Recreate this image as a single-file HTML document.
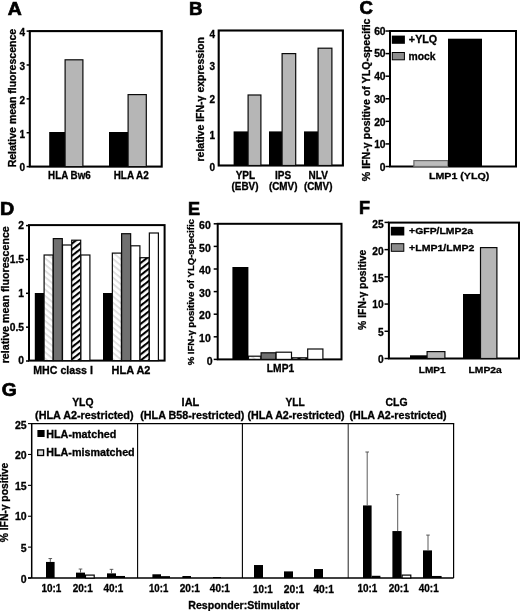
<!DOCTYPE html>
<html><head><meta charset="utf-8"><title>Figure</title>
<style>
html,body{margin:0;padding:0;background:#fff;}
svg{display:block;font-family:"Liberation Sans", Arial, Helvetica, sans-serif;font-weight:bold;}
text{fill:#000;stroke:#000;stroke-width:0.3px;}
text.L{stroke-width:0.7px;}
</style></head>
<body>
<svg width="520" height="611" viewBox="0 0 520 611">
<defs>
<pattern id="lh" width="4.8" height="4.8" patternUnits="userSpaceOnUse" patternTransform="rotate(40)">
<rect width="4.8" height="4.8" fill="#fff"/><rect width="4.8" height="1.7" fill="#dcdcdc"/>
</pattern>
<pattern id="bh" width="4.8" height="4.8" patternUnits="userSpaceOnUse" patternTransform="rotate(-38)">
<rect width="4.8" height="4.8" fill="#fff"/><rect width="4.8" height="2.1" fill="#000"/>
</pattern>
</defs>
<rect width="520" height="611" fill="#fff"/>
<text x="7.72" y="15.00" font-size="18.3" textLength="14.01" lengthAdjust="spacingAndGlyphs" class="L">A</text>
<rect x="29.8" y="31.1" width="131.89999999999998" height="135.5" fill="none" stroke="#000" stroke-width="2.1"/>
<line x1="26.6" y1="166.60" x2="29.8" y2="166.60" stroke="#000" stroke-width="1.5"/>
<line x1="26.6" y1="132.73" x2="29.8" y2="132.73" stroke="#000" stroke-width="1.5"/>
<line x1="26.6" y1="98.86" x2="29.8" y2="98.86" stroke="#000" stroke-width="1.5"/>
<line x1="26.6" y1="64.99" x2="29.8" y2="64.99" stroke="#000" stroke-width="1.5"/>
<line x1="26.6" y1="31.12" x2="29.8" y2="31.12" stroke="#000" stroke-width="1.5"/>
<text x="25.00" y="171.38" font-size="10" text-anchor="end">0</text>
<text x="25.00" y="137.51" font-size="10" text-anchor="end">1</text>
<text x="25.00" y="103.64" font-size="10" text-anchor="end">2</text>
<text x="25.00" y="69.77" font-size="10" text-anchor="end">3</text>
<text x="25.00" y="35.90" font-size="10" text-anchor="end">4</text>
<rect x="49.20" y="132.00" width="15.80" height="34.60" fill="#000"/>
<rect x="65.10" y="59.80" width="17.80" height="106.80" fill="#b6b6b6" stroke="#0a0a0a" stroke-width="1.2"/>
<rect x="109.00" y="132.00" width="19.00" height="34.60" fill="#000"/>
<rect x="128.10" y="94.60" width="18.20" height="72.00" fill="#b6b6b6" stroke="#0a0a0a" stroke-width="1.2"/>
<text x="48.11" y="178.90" font-size="10.3" textLength="42.60" lengthAdjust="spacingAndGlyphs">HLA Bw6</text>
<text x="113.71" y="178.90" font-size="10.3" textLength="35.06" lengthAdjust="spacingAndGlyphs">HLA A2</text>
<text x="16.20" y="167.34" font-size="10.6" textLength="138.48" lengthAdjust="spacingAndGlyphs" transform="rotate(-90 16.20 167.34)">Relative mean fluorescence</text>
<text x="188.99" y="15.00" font-size="18.3" textLength="13.50" lengthAdjust="spacingAndGlyphs" class="L">B</text>
<rect x="218.7" y="30.5" width="124.19999999999999" height="135.0" fill="none" stroke="#000" stroke-width="2.1"/>
<text x="215.10" y="171.08" font-size="10" text-anchor="end">0</text>
<text x="215.10" y="138.58" font-size="10" text-anchor="end">1</text>
<text x="215.10" y="103.08" font-size="10" text-anchor="end">2</text>
<text x="215.10" y="70.08" font-size="10" text-anchor="end">3</text>
<text x="215.10" y="37.78" font-size="10" text-anchor="end">4</text>
<rect x="233.60" y="131.40" width="14.40" height="34.10" fill="#000"/>
<rect x="248.10" y="95.00" width="12.80" height="70.50" fill="#b6b6b6" stroke="#0a0a0a" stroke-width="1.2"/>
<rect x="269.00" y="131.40" width="13.00" height="34.10" fill="#000"/>
<rect x="282.10" y="53.60" width="13.60" height="111.90" fill="#b6b6b6" stroke="#0a0a0a" stroke-width="1.2"/>
<rect x="304.00" y="131.40" width="14.00" height="34.10" fill="#000"/>
<rect x="318.10" y="48.20" width="13.80" height="117.30" fill="#b6b6b6" stroke="#0a0a0a" stroke-width="1.2"/>
<text x="245.4" y="179.2" font-size="10" text-anchor="middle">YPL</text>
<text x="231.50" y="190.20" font-size="10" textLength="27.01" lengthAdjust="spacingAndGlyphs">(EBV)</text>
<text x="283" y="179.2" font-size="10" text-anchor="middle">IPS</text>
<text x="268.91" y="190.20" font-size="10" textLength="28.57" lengthAdjust="spacingAndGlyphs">(CMV)</text>
<text x="318.2" y="179.2" font-size="10" text-anchor="middle">NLV</text>
<text x="303.91" y="190.20" font-size="10" textLength="28.57" lengthAdjust="spacingAndGlyphs">(CMV)</text>
<text x="204.20" y="161.54" font-size="10.6" textLength="124.45" lengthAdjust="spacingAndGlyphs" transform="rotate(-90 204.20 161.54)">relative IFN-γ expression</text>
<text x="359.56" y="14.00" font-size="18.3" textLength="13.44" lengthAdjust="spacingAndGlyphs" class="L">C</text>
<rect x="390" y="31" width="126" height="135.5" fill="none" stroke="#000" stroke-width="2"/>
<line x1="385.5" y1="166.50" x2="390" y2="166.50" stroke="#000" stroke-width="1.5"/>
<line x1="385.5" y1="143.92" x2="390" y2="143.92" stroke="#000" stroke-width="1.5"/>
<line x1="385.5" y1="121.34" x2="390" y2="121.34" stroke="#000" stroke-width="1.5"/>
<line x1="385.5" y1="98.76" x2="390" y2="98.76" stroke="#000" stroke-width="1.5"/>
<line x1="385.5" y1="76.18" x2="390" y2="76.18" stroke="#000" stroke-width="1.5"/>
<line x1="385.5" y1="53.60" x2="390" y2="53.60" stroke="#000" stroke-width="1.5"/>
<line x1="385.5" y1="31.02" x2="390" y2="31.02" stroke="#000" stroke-width="1.5"/>
<text x="385.60" y="170.69" font-size="10.3" text-anchor="end">0</text>
<text x="385.60" y="148.29" font-size="10.3" text-anchor="end">10</text>
<text x="385.60" y="125.69" font-size="10.3" text-anchor="end">20</text>
<text x="385.60" y="102.69" font-size="10.3" text-anchor="end">30</text>
<text x="385.60" y="80.19" font-size="10.3" text-anchor="end">40</text>
<text x="385.60" y="57.29" font-size="10.3" text-anchor="end">50</text>
<text x="385.60" y="35.49" font-size="10.3" text-anchor="end">60</text>
<rect x="413.90" y="160.60" width="34.00" height="5.90" fill="#bcbcbc" stroke="#6a6a6a" stroke-width="1.2"/>
<rect x="448.00" y="38.70" width="34.00" height="127.80" fill="#000"/>
<rect x="391.80" y="35.60" width="13.10" height="8.20" fill="#000"/>
<rect x="392.30" y="52.50" width="12.10" height="7.30" fill="#8c8c8c" stroke="#000" stroke-width="1"/>
<text x="408.87" y="43.10" font-size="10.5" textLength="28.36" lengthAdjust="spacingAndGlyphs">+YLQ</text>
<text x="408.58" y="59.70" font-size="10.5" textLength="27.05" lengthAdjust="spacingAndGlyphs">mock</text>
<text x="428.95" y="179.40" font-size="9.9" textLength="60.34" lengthAdjust="spacingAndGlyphs">LMP1 (YLQ)</text>
<text x="369.60" y="181.22" font-size="10.3" textLength="162.72" lengthAdjust="spacingAndGlyphs" transform="rotate(-90 369.60 181.22)">% IFN-γ positive of YLQ-specific</text>
<text x="0.02" y="214.80" font-size="18.3" textLength="14.21" lengthAdjust="spacingAndGlyphs" class="L">D</text>
<rect x="29" y="225.1" width="135.6" height="135.50000000000003" fill="none" stroke="#000" stroke-width="2"/>
<line x1="26" y1="361.00" x2="29" y2="361.00" stroke="#000" stroke-width="1.5"/>
<line x1="26" y1="327.15" x2="29" y2="327.15" stroke="#000" stroke-width="1.5"/>
<line x1="26" y1="293.30" x2="29" y2="293.30" stroke="#000" stroke-width="1.5"/>
<line x1="26" y1="259.45" x2="29" y2="259.45" stroke="#000" stroke-width="1.5"/>
<line x1="26" y1="225.60" x2="29" y2="225.60" stroke="#000" stroke-width="1.5"/>
<text x="24.10" y="364.29" font-size="10.3" text-anchor="end">0</text>
<text x="24.10" y="331.09" font-size="10.3" text-anchor="end">0.5</text>
<text x="24.10" y="296.89" font-size="10.3" text-anchor="end">1</text>
<text x="24.10" y="263.29" font-size="10.3" text-anchor="end">1.5</text>
<text x="24.10" y="228.89" font-size="10.3" text-anchor="end">2</text>
<rect x="34.80" y="293.00" width="9.20" height="67.60" fill="#000"/>
<rect x="44.10" y="255.00" width="9.00" height="105.60" fill="url(#lh)" stroke="#0a0a0a" stroke-width="1.2"/>
<rect x="53.30" y="238.60" width="9.00" height="122.00" fill="#707070" stroke="#0a0a0a" stroke-width="1.2"/>
<rect x="62.50" y="245.00" width="9.00" height="115.60" fill="#fff" stroke="#0a0a0a" stroke-width="1.2"/>
<rect x="71.70" y="240.20" width="9.00" height="120.40" fill="url(#bh)" stroke="#0a0a0a" stroke-width="1.2"/>
<rect x="80.90" y="255.00" width="9.00" height="105.60" fill="#fff" stroke="#0a0a0a" stroke-width="1.2"/>
<rect x="103.00" y="293.00" width="9.25" height="67.60" fill="#000"/>
<rect x="112.35" y="253.10" width="9.05" height="107.50" fill="url(#lh)" stroke="#0a0a0a" stroke-width="1.2"/>
<rect x="121.60" y="233.70" width="9.05" height="126.90" fill="#707070" stroke="#0a0a0a" stroke-width="1.2"/>
<rect x="130.85" y="245.80" width="9.05" height="114.80" fill="#fff" stroke="#0a0a0a" stroke-width="1.2"/>
<rect x="140.10" y="257.70" width="9.05" height="102.90" fill="url(#bh)" stroke="#0a0a0a" stroke-width="1.2"/>
<rect x="149.35" y="233.00" width="9.05" height="127.60" fill="#fff" stroke="#0a0a0a" stroke-width="1.2"/>
<text x="33.26" y="374.20" font-size="10.5" textLength="59.62" lengthAdjust="spacingAndGlyphs">MHC class I</text>
<text x="111.63" y="374.20" font-size="10.5" textLength="38.77" lengthAdjust="spacingAndGlyphs">HLA A2</text>
<text x="8.80" y="363.35" font-size="10.5" textLength="137.17" lengthAdjust="spacingAndGlyphs" transform="rotate(-90 8.80 363.35)">relative mean fluorescence</text>
<text x="188.04" y="214.80" font-size="18.3" textLength="12.03" lengthAdjust="spacingAndGlyphs" class="L">E</text>
<rect x="217.7" y="223.8" width="123.80000000000001" height="135.59999999999997" fill="none" stroke="#000" stroke-width="2"/>
<line x1="213.7" y1="359.40" x2="217.7" y2="359.40" stroke="#000" stroke-width="1.5"/>
<line x1="213.7" y1="336.80" x2="217.7" y2="336.80" stroke="#000" stroke-width="1.5"/>
<line x1="213.7" y1="314.20" x2="217.7" y2="314.20" stroke="#000" stroke-width="1.5"/>
<line x1="213.7" y1="291.60" x2="217.7" y2="291.60" stroke="#000" stroke-width="1.5"/>
<line x1="213.7" y1="269.00" x2="217.7" y2="269.00" stroke="#000" stroke-width="1.5"/>
<line x1="213.7" y1="246.40" x2="217.7" y2="246.40" stroke="#000" stroke-width="1.5"/>
<line x1="213.7" y1="223.80" x2="217.7" y2="223.80" stroke="#000" stroke-width="1.5"/>
<text x="212.60" y="364.56" font-size="10.5" text-anchor="end">0</text>
<text x="210.80" y="341.76" font-size="10.5" text-anchor="end">10</text>
<text x="210.80" y="319.36" font-size="10.5" text-anchor="end">20</text>
<text x="210.80" y="296.76" font-size="10.5" text-anchor="end">30</text>
<text x="210.80" y="274.16" font-size="10.5" text-anchor="end">40</text>
<text x="210.80" y="251.76" font-size="10.5" text-anchor="end">50</text>
<text x="210.80" y="229.36" font-size="10.5" text-anchor="end">60</text>
<rect x="232.40" y="267.00" width="16.00" height="92.40" fill="#000"/>
<rect x="248.50" y="356.20" width="12.40" height="3.20" fill="url(#lh)" stroke="#0a0a0a" stroke-width="1.2"/>
<rect x="261.10" y="352.80" width="14.80" height="6.60" fill="#707070" stroke="#0a0a0a" stroke-width="1.2"/>
<rect x="276.10" y="352.20" width="15.40" height="7.20" fill="#fff" stroke="#0a0a0a" stroke-width="1.2"/>
<rect x="291.70" y="357.80" width="15.80" height="1.60" fill="url(#bh)" stroke="#0a0a0a" stroke-width="1.2"/>
<rect x="307.70" y="349.00" width="15.20" height="10.40" fill="#fff" stroke="#0a0a0a" stroke-width="1.2"/>
<text x="266.88" y="371.80" font-size="10" textLength="27.29" lengthAdjust="spacingAndGlyphs">LMP1</text>
<text x="194.30" y="365.29" font-size="9.3" textLength="146.15" lengthAdjust="spacingAndGlyphs" transform="rotate(-90 194.30 365.29)">% IFN-γ positive of YLQ-specific</text>
<text x="359.04" y="214.00" font-size="18.3" textLength="11.00" lengthAdjust="spacingAndGlyphs" class="L">F</text>
<rect x="388.9" y="222.6" width="130.10000000000002" height="135.9" fill="none" stroke="#000" stroke-width="2"/>
<line x1="384.5" y1="358.50" x2="389" y2="358.50" stroke="#000" stroke-width="1.5"/>
<line x1="384.5" y1="331.28" x2="389" y2="331.28" stroke="#000" stroke-width="1.5"/>
<line x1="384.5" y1="304.06" x2="389" y2="304.06" stroke="#000" stroke-width="1.5"/>
<line x1="384.5" y1="276.84" x2="389" y2="276.84" stroke="#000" stroke-width="1.5"/>
<line x1="384.5" y1="249.62" x2="389" y2="249.62" stroke="#000" stroke-width="1.5"/>
<line x1="384.5" y1="222.40" x2="389" y2="222.40" stroke="#000" stroke-width="1.5"/>
<text x="383.60" y="363.35" font-size="10.2" text-anchor="end">0</text>
<text x="383.60" y="335.65" font-size="10.2" text-anchor="end">5</text>
<text x="383.60" y="308.05" font-size="10.2" text-anchor="end">10</text>
<text x="383.60" y="281.65" font-size="10.2" text-anchor="end">15</text>
<text x="383.60" y="254.65" font-size="10.2" text-anchor="end">20</text>
<text x="383.60" y="227.65" font-size="10.2" text-anchor="end">25</text>
<rect x="410.00" y="355.30" width="17.00" height="3.20" fill="#000"/>
<rect x="427.10" y="351.60" width="17.80" height="6.90" fill="#b6b6b6" stroke="#0a0a0a" stroke-width="1.2"/>
<rect x="463.00" y="294.00" width="17.40" height="64.50" fill="#000"/>
<rect x="480.50" y="247.60" width="16.40" height="110.90" fill="#b6b6b6" stroke="#0a0a0a" stroke-width="1.2"/>
<rect x="390.80" y="226.80" width="13.50" height="8.70" fill="#000"/>
<rect x="391.30" y="243.70" width="12.50" height="7.60" fill="#8c8c8c" stroke="#000" stroke-width="1"/>
<text x="409.08" y="234.00" font-size="9.8" textLength="64.02" lengthAdjust="spacingAndGlyphs">+GFP/LMP2a</text>
<text x="409.08" y="250.70" font-size="9.8" textLength="65.30" lengthAdjust="spacingAndGlyphs">+LMP1/LMP2</text>
<text x="418.80" y="372.80" font-size="9.8" textLength="26.77" lengthAdjust="spacingAndGlyphs">LMP1</text>
<text x="468.58" y="372.80" font-size="9.8" textLength="33.15" lengthAdjust="spacingAndGlyphs">LMP2a</text>
<text x="366.50" y="329.91" font-size="10.4" textLength="80.26" lengthAdjust="spacingAndGlyphs" transform="rotate(-90 366.50 329.91)">% IFN-γ positive</text>
<text x="1.83" y="396.40" font-size="18.3" textLength="14.99" lengthAdjust="spacingAndGlyphs" class="L">G</text>
<line x1="31.7" y1="423.0" x2="31.7" y2="578" stroke="#000" stroke-width="1.5"/>
<line x1="31" y1="423.6" x2="454.2" y2="423.6" stroke="#000" stroke-width="1.2"/>
<line x1="453.6" y1="423.6" x2="453.6" y2="578" stroke="#000" stroke-width="1.2"/>
<line x1="137.6" y1="423.6" x2="137.6" y2="578" stroke="#000" stroke-width="1.1"/>
<line x1="242.4" y1="423.6" x2="242.4" y2="578" stroke="#000" stroke-width="1.1"/>
<line x1="348.2" y1="423.6" x2="348.2" y2="578" stroke="#222" stroke-width="1"/>
<line x1="28" y1="578" x2="453.6" y2="578" stroke="#000" stroke-width="1.6"/>
<line x1="28" y1="578.00" x2="31" y2="578.00" stroke="#000" stroke-width="1.1"/>
<line x1="28" y1="547.12" x2="31" y2="547.12" stroke="#000" stroke-width="1.1"/>
<line x1="28" y1="516.24" x2="31" y2="516.24" stroke="#000" stroke-width="1.1"/>
<line x1="28" y1="485.36" x2="31" y2="485.36" stroke="#000" stroke-width="1.1"/>
<line x1="28" y1="454.48" x2="31" y2="454.48" stroke="#000" stroke-width="1.1"/>
<line x1="28" y1="423.60" x2="31" y2="423.60" stroke="#000" stroke-width="1.1"/>
<text x="26.60" y="582.56" font-size="10.5" text-anchor="end">0</text>
<text x="26.60" y="551.76" font-size="10.5" text-anchor="end">5</text>
<text x="26.60" y="520.36" font-size="10.5" text-anchor="end">10</text>
<text x="26.60" y="489.86" font-size="10.5" text-anchor="end">15</text>
<text x="26.60" y="458.86" font-size="10.5" text-anchor="end">20</text>
<text x="26.60" y="428.76" font-size="10.5" text-anchor="end">25</text>
<rect x="46.00" y="561.94" width="8.60" height="16.06" fill="#000"/>
<line x1="50.3" y1="561.94" x2="50.3" y2="558.55" stroke="#4a4a4a" stroke-width="0.9"/>
<line x1="48.5" y1="558.55" x2="52.099999999999994" y2="558.55" stroke="#4a4a4a" stroke-width="0.9"/>
<rect x="76.00" y="572.63" width="9.00" height="5.37" fill="#000"/>
<line x1="80.5" y1="572.63" x2="80.5" y2="569.04" stroke="#4a4a4a" stroke-width="0.9"/>
<line x1="78.7" y1="569.04" x2="82.3" y2="569.04" stroke="#4a4a4a" stroke-width="0.9"/>
<rect x="85.50" y="575.10" width="8.70" height="2.90" fill="#fff" stroke="#000" stroke-width="1.2"/>
<rect x="107.00" y="573.37" width="9.00" height="4.63" fill="#000"/>
<line x1="111.5" y1="573.37" x2="111.5" y2="569.35" stroke="#4a4a4a" stroke-width="0.9"/>
<line x1="109.7" y1="569.35" x2="113.3" y2="569.35" stroke="#4a4a4a" stroke-width="0.9"/>
<rect x="116.00" y="575.96" width="9.00" height="2.04" fill="#000"/>
<rect x="152.40" y="574.29" width="8.60" height="3.71" fill="#000"/>
<rect x="161.00" y="576.15" width="9.00" height="1.85" fill="#000"/>
<rect x="182.40" y="576.02" width="8.60" height="1.98" fill="#000"/>
<rect x="213.00" y="577.01" width="8.00" height="0.99" fill="#000"/>
<rect x="254.00" y="565.03" width="9.00" height="12.97" fill="#000"/>
<rect x="284.00" y="571.39" width="9.00" height="6.61" fill="#000"/>
<rect x="314.00" y="569.04" width="9.00" height="8.96" fill="#000"/>
<rect x="363.00" y="505.43" width="8.60" height="72.57" fill="#000"/>
<line x1="367.2" y1="505.43" x2="367.2" y2="452.01" stroke="#4a4a4a" stroke-width="0.9"/>
<line x1="365.4" y1="452.01" x2="369.0" y2="452.01" stroke="#4a4a4a" stroke-width="0.9"/>
<rect x="371.60" y="575.78" width="8.80" height="2.22" fill="#000"/>
<rect x="392.40" y="531.06" width="9.20" height="46.94" fill="#000"/>
<line x1="397.7" y1="531.06" x2="397.7" y2="494.62" stroke="#4a4a4a" stroke-width="0.9"/>
<line x1="395.9" y1="494.62" x2="399.5" y2="494.62" stroke="#4a4a4a" stroke-width="0.9"/>
<rect x="402.10" y="575.10" width="8.70" height="2.90" fill="#fff" stroke="#000" stroke-width="1.2"/>
<rect x="423.00" y="550.39" width="9.00" height="27.61" fill="#000"/>
<line x1="428" y1="550.39" x2="428" y2="535.08" stroke="#4a4a4a" stroke-width="0.9"/>
<line x1="426.2" y1="535.08" x2="429.8" y2="535.08" stroke="#4a4a4a" stroke-width="0.9"/>
<rect x="432.00" y="575.96" width="9.60" height="2.04" fill="#000"/>
<text x="41.40" y="592.20" font-size="10.5" textLength="19.91" lengthAdjust="spacingAndGlyphs">10:1</text>
<text x="72.70" y="592.20" font-size="10.5" textLength="20.02" lengthAdjust="spacingAndGlyphs">20:1</text>
<text x="103.40" y="592.20" font-size="10.5" textLength="19.91" lengthAdjust="spacingAndGlyphs">40:1</text>
<text x="149.02" y="592.20" font-size="10.5" textLength="19.28" lengthAdjust="spacingAndGlyphs">10:1</text>
<text x="179.70" y="592.20" font-size="10.5" textLength="20.22" lengthAdjust="spacingAndGlyphs">20:1</text>
<text x="209.80" y="592.20" font-size="10.5" textLength="20.12" lengthAdjust="spacingAndGlyphs">40:1</text>
<text x="253.01" y="593.20" font-size="10.5" textLength="19.70" lengthAdjust="spacingAndGlyphs">10:1</text>
<text x="283.69" y="593.20" font-size="10.5" textLength="20.63" lengthAdjust="spacingAndGlyphs">20:1</text>
<text x="313.39" y="593.20" font-size="10.5" textLength="20.53" lengthAdjust="spacingAndGlyphs">40:1</text>
<text x="357.40" y="592.20" font-size="10.5" textLength="19.91" lengthAdjust="spacingAndGlyphs">10:1</text>
<text x="388.70" y="592.20" font-size="10.5" textLength="20.02" lengthAdjust="spacingAndGlyphs">20:1</text>
<text x="418.80" y="592.20" font-size="10.5" textLength="19.91" lengthAdjust="spacingAndGlyphs">40:1</text>
<text x="188.26" y="609.20" font-size="10.5" textLength="111.46" lengthAdjust="spacingAndGlyphs">Responder:Stimulator</text>
<text x="72.19" y="406.00" font-size="10.5" textLength="21.28" lengthAdjust="spacingAndGlyphs">YLQ</text>
<text x="35.06" y="419.30" font-size="10.5" textLength="98.52" lengthAdjust="spacingAndGlyphs">(HLA A2-restricted)</text>
<text x="181.63" y="405.60" font-size="10.5" textLength="17.71" lengthAdjust="spacingAndGlyphs">IAL</text>
<text x="140.26" y="419.30" font-size="10.5" textLength="104.14" lengthAdjust="spacingAndGlyphs">(HLA B58-restricted)</text>
<text x="285.40" y="405.60" font-size="10.5" textLength="19.30" lengthAdjust="spacingAndGlyphs">YLL</text>
<text x="247.47" y="419.30" font-size="10.5" textLength="97.11" lengthAdjust="spacingAndGlyphs">(HLA A2-restricted)</text>
<text x="385.58" y="405.60" font-size="10.5" textLength="22.05" lengthAdjust="spacingAndGlyphs">CLG</text>
<text x="349.47" y="419.30" font-size="10.5" textLength="97.11" lengthAdjust="spacingAndGlyphs">(HLA A2-restricted)</text>
<rect x="37.40" y="430.00" width="7.20" height="7.00" fill="#000"/>
<rect x="37.70" y="449.90" width="5.90" height="5.60" fill="#ddd" stroke="#000" stroke-width="1.3"/>
<text x="46.24" y="437.50" font-size="10.5" textLength="70.12" lengthAdjust="spacingAndGlyphs">HLA-matched</text>
<text x="46.25" y="456.30" font-size="10.5" textLength="88.44" lengthAdjust="spacingAndGlyphs">HLA-mismatched</text>
<text x="8.30" y="542.31" font-size="10.4" textLength="79.66" lengthAdjust="spacingAndGlyphs" transform="rotate(-90 8.30 542.31)">% IFN-γ positive</text>
</svg>
</body></html>
